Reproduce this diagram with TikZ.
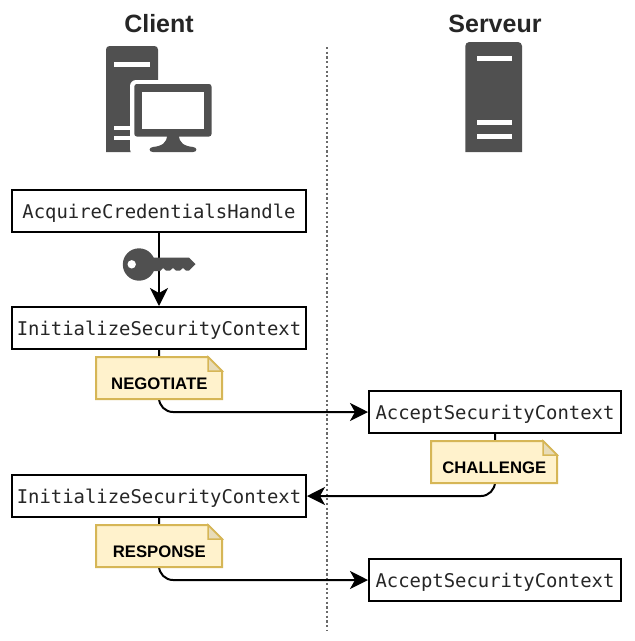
\documentclass[tikz,border=0pt]{standalone}
\usepackage{fontspec}
\setmainfont{Liberation Sans}
\setmonofont{DejaVu Sans Mono}
\usetikzlibrary{arrows.meta}
\definecolor{icon}{HTML}{505050}
\definecolor{notefill}{HTML}{FFF2CC}
\definecolor{noteline}{HTML}{D6B656}
\definecolor{notefold}{HTML}{E8DCB8}
\tikzset{
  x=1pt,y=-1pt,
  call/.style={draw=black,line width=2pt,fill=white,inner sep=0pt,minimum height=42pt,font=\ttfamily\fontsize{18.9}{22}\selectfont,text=black!85,anchor=center,text depth=0pt,text height=15pt},
  head/.style={font=\bfseries\fontsize{25}{30}\selectfont,text=black!85,inner sep=0pt},
  notetext/.style={font=\bfseries\fontsize{16.7}{19}\selectfont,inner sep=0pt,text=black},
  conn/.style={draw=black,line width=2pt,-{Stealth[length=18pt,width=18pt,inset=5pt]},rounded corners=14pt},
  notebody/.style={draw=noteline,line width=2pt,fill=notefill,line join=miter},
  foldpart/.style={draw=noteline,line width=1.5pt,fill=notefold,line join=miter},
}
\newcommand{\notebox}[3]{% x, y, text
  \path[notebody] (#1,#2) -- ++(112,0) -- ++(14,14) -- ++(0,28) -- ++(-126,0) -- cycle;
  \path[foldpart] (#1+112,#2) -- ++(0,14) -- ++(14,0) -- cycle;
  \node[notetext] (#3) at (#1+63.3,#2+26.5) {#3};
}
\begin{document}
\begin{tikzpicture}
\useasboundingbox (0,0) rectangle (635,641);
\fill[white] (0,0) rectangle (635,641);
\node[head] (client) at (159,24) {Client};
\node[head] (serveur) at (495,24) {Serveur};
\coordinate (sepTop) at (326.5,47);
\coordinate (sepBot) at (326.5,631);
\draw[icon!85,line width=2pt,dash pattern=on 2.2pt off 2.5pt] (sepTop) -- (sepBot);

\node[call,minimum width=294pt] (acq) at (159,211) {AcquireCredentialsHandle};
\node[call,minimum width=294pt] (init1) at (159,328) {InitializeSecurityContext};
\node[call,minimum width=252pt] (acc1) at (495,412) {AcceptSecurityContext};
\node[call,minimum width=294pt] (init2) at (159,496) {InitializeSecurityContext};
\node[call,minimum width=252pt] (acc2) at (495,580) {AcceptSecurityContext};

% connectors
\draw[conn] (acq.south) -- (init1.north);
\draw[conn] (init1.south) |- (acc1.west);
\draw[conn] (acc1.south) |- (init2.east);
\draw[conn] (init2.south) |- (acc2.west);

% notes
\notebox{96}{357}{NEGOTIATE}
\notebox{431}{441}{CHALLENGE}
\notebox{96}{525}{RESPONSE}

% key
\fill[icon] (139,264.5) circle (16.2);
\fill[icon] (150,257.7) -- (189,257.7) -- (195.5,264) -- (189,270.5) -- (186,270.5) -- (183,268) -- (180,270.5) -- (176,270.5) -- (173,268) -- (170,270.5) -- (166,270.5) -- (163,268) -- (160,271) -- (150,271) -- cycle;
\fill[white] (131.7,264.3) circle (4.2);

% client computer
\fill[icon] (106,152) [rounded corners=3.5pt] -- (106,46) -- (158,46) [sharp corners] -- (158,152) -- cycle;
\fill[white] (114,62) rectangle (150,67);
\fill[white] (114,126) rectangle (130,130);
\fill[white] (114,135.5) rectangle (150,140);
\fill[white,rounded corners=6pt] (130,80) rectangle (215,155);
\fill[white] (158,130) rectangle (215,155);
\fill[white,rounded corners=4pt] (144,155) -- (144,146) -- (160,140) -- (200,140) -- (200,155) -- cycle;
\fill[icon,rounded corners=2.5pt] (134.3,84) rectangle (211.5,136.5);
\fill[white] (141.7,91.7) rectangle (204,129);
\fill[icon] (167,135) -- (179,135) .. controls (179,143) and (184,146) .. (193,147) .. controls (197.5,147.5) and (197.5,152) .. (193,152) -- (153,152) .. controls (148.5,152) and (148.5,147.5) .. (153,147) .. controls (162,146) and (167,143) .. (167,135) -- cycle;

% server
\fill[icon] (465.3,152) [rounded corners=4pt] -- (465.3,42) -- (522,42) [sharp corners] -- (522,152) -- cycle;
\fill[white] (476.5,56) rectangle (511.5,61);
\fill[white] (476.5,120) rectangle (511.5,125);
\fill[white] (476.5,134) rectangle (511.5,139);
\end{tikzpicture}
\end{document}
